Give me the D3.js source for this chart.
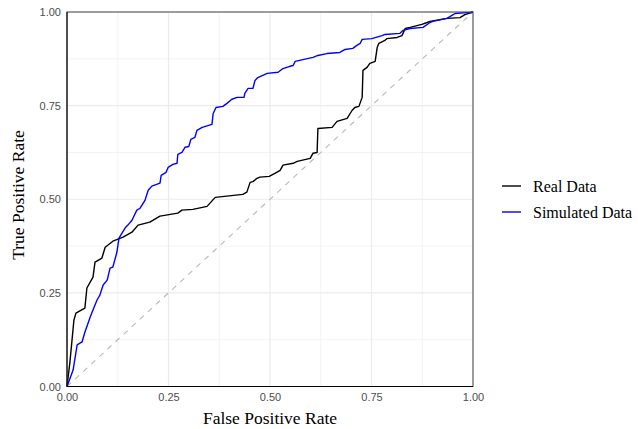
<!DOCTYPE html>
<html><head><meta charset="utf-8">
<script src="https://cdn.jsdelivr.net/npm/d3@7"></script>
<style>body{margin:0;background:#fff}svg{display:block}</style>
</head><body>
<script>
const xTicks = [0, 0.25, 0.5, 0.75, 1];
const yTicks = [0, 0.25, 0.5, 0.75, 1];
const seriesNames = ["Real Data", "Simulated Data"];
const seriesColors = ["#000000", "#0000ff"];

const realFPR = [0,0.007,0.017,0.022,0.044,0.049,0.064,0.069,0.086,0.094,0.113,0.138,0.160,0.175,0.204,0.229,0.273,0.283,0.310,0.345,0.365,0.433,0.443,0.451,0.458,0.468,0.475,0.498,0.512,0.525,0.532,0.557,0.567,0.599,0.606,0.616,0.618,0.653,0.665,0.690,0.702,0.709,0.719,0.727,0.729,0.739,0.746,0.759,0.764,0.768,0.783,0.788,0.813,0.825,0.833,0.845,0.874,0.887,0.894,0.936,0.968,0.980,1];
const realTPR = [0,0.063,0.177,0.196,0.209,0.263,0.292,0.332,0.343,0.372,0.388,0.399,0.412,0.431,0.439,0.455,0.463,0.471,0.473,0.481,0.505,0.513,0.519,0.545,0.547,0.556,0.559,0.561,0.569,0.577,0.591,0.596,0.601,0.609,0.623,0.625,0.689,0.692,0.708,0.716,0.737,0.745,0.748,0.772,0.844,0.852,0.863,0.868,0.905,0.916,0.924,0.929,0.932,0.937,0.956,0.959,0.967,0.972,0.975,0.983,0.985,0.993,1];

const simFPR = [0,0.015,0.025,0.037,0.044,0.057,0.062,0.074,0.081,0.089,0.099,0.106,0.113,0.123,0.128,0.143,0.150,0.160,0.172,0.180,0.192,0.200,0.209,0.229,0.232,0.244,0.249,0.261,0.271,0.273,0.283,0.291,0.300,0.305,0.315,0.320,0.333,0.357,0.360,0.367,0.384,0.394,0.406,0.419,0.436,0.438,0.446,0.458,0.463,0.470,0.493,0.520,0.532,0.549,0.557,0.562,0.581,0.606,0.618,0.640,0.672,0.685,0.704,0.714,0.722,0.727,0.751,0.776,0.783,0.820,0.828,0.845,0.877,0.894,0.901,0.936,0.948,0.956,0.993,1];
const simTPR = [0,0.044,0.111,0.119,0.145,0.185,0.199,0.231,0.244,0.271,0.284,0.316,0.319,0.359,0.396,0.423,0.431,0.444,0.471,0.476,0.497,0.524,0.535,0.543,0.564,0.572,0.585,0.593,0.596,0.620,0.625,0.639,0.641,0.660,0.665,0.684,0.692,0.700,0.729,0.745,0.748,0.756,0.767,0.772,0.772,0.783,0.796,0.796,0.817,0.825,0.836,0.839,0.849,0.855,0.857,0.868,0.873,0.879,0.884,0.889,0.892,0.900,0.903,0.911,0.916,0.927,0.929,0.937,0.940,0.943,0.951,0.956,0.959,0.972,0.975,0.983,0.991,0.996,0.999,1];

const W = 638, H = 429;
const m = {left: 67, right: 473, top: 12, bottom: 386.5};
const svg = d3.select("body").append("svg").attr("width", W).attr("height", H);

const x = d3.scaleLinear().domain([0,1]).range([m.left, m.right]);
const y = d3.scaleLinear().domain([0,1]).range([m.bottom, m.top]);

const minor = [0.125, 0.375, 0.625, 0.875];
const g = svg.append("g");
g.selectAll(".vmin").data(minor).join("line")
  .attr("x1", d=>x(d)).attr("x2", d=>x(d)).attr("y1", m.top).attr("y2", m.bottom)
  .attr("stroke", "#f0f0f0").attr("stroke-width", 0.8);
g.selectAll(".hmin").data(minor).join("line")
  .attr("y1", d=>y(d)).attr("y2", d=>y(d)).attr("x1", m.left).attr("x2", m.right)
  .attr("stroke", "#f0f0f0").attr("stroke-width", 0.8);
g.selectAll(".vmaj").data(xTicks).join("line")
  .attr("x1", d=>x(d)).attr("x2", d=>x(d)).attr("y1", m.top).attr("y2", m.bottom)
  .attr("stroke", "#ebebeb").attr("stroke-width", 1.2);
g.selectAll(".hmaj").data(yTicks).join("line")
  .attr("y1", d=>y(d)).attr("y2", d=>y(d)).attr("x1", m.left).attr("x2", m.right)
  .attr("stroke", "#ebebeb").attr("stroke-width", 1.2);

svg.append("line").attr("x1", x(0)).attr("y1", y(0)).attr("x2", x(1)).attr("y2", y(1))
  .attr("stroke", "#b8b8b8").attr("stroke-width", 1.1).attr("stroke-dasharray", "5.5,5.5");

const line = d3.line().x(d=>x(d[0])).y(d=>y(d[1]));
const series = [
  d3.zip(realFPR, realTPR),
  d3.zip(simFPR, simTPR)
];
series.forEach((s,i)=>{
  svg.append("path").datum(s).attr("d", line).attr("fill","none")
    .attr("stroke", seriesColors[i]).attr("stroke-width", 1.4).attr("stroke-linejoin","round");
});

svg.append("rect").attr("x", m.left).attr("y", m.top).attr("width", m.right-m.left).attr("height", m.bottom-m.top)
  .attr("fill","none").attr("stroke","#444").attr("stroke-width",1);
svg.append("path").attr("d", `M${m.left},${m.top}V${m.bottom}H${m.right}`).attr("fill","none").attr("stroke","#000").attr("stroke-width",1);

const fmt = d3.format(".2f");
const xa = svg.append("g").attr("transform", `translate(0,${m.bottom})`)
  .call(d3.axisBottom(x).tickValues(xTicks).tickFormat(fmt).tickSize(0).tickPadding(7));
const ya = svg.append("g").attr("transform", `translate(${m.left},0)`)
  .call(d3.axisLeft(y).tickValues(yTicks).tickFormat(fmt).tickSize(0).tickPadding(6));
[xa, ya].forEach(a=>{
  a.select(".domain").remove();
  a.selectAll("text").attr("font-family","Liberation Sans, Arial, sans-serif").attr("font-size", 11).attr("fill","#4d4d4d");
});

svg.append("text").attr("x", (m.left+m.right)/2).attr("y", 424).attr("text-anchor","middle")
  .attr("font-family","Liberation Serif, Times New Roman, serif").attr("font-size", 17.5).attr("fill","#000")
  .text("False Positive Rate");
svg.append("text").attr("transform", `translate(24,195) rotate(-90)`).attr("text-anchor","middle")
  .attr("font-family","Liberation Serif, Times New Roman, serif").attr("font-size", 17.5).attr("fill","#000")
  .text("True Positive Rate");

const lg = svg.append("g");
seriesNames.forEach((n,i)=>{
  const yy = 186 + i*26;
  lg.append("line").attr("x1", 502).attr("x2", 521).attr("y1", yy).attr("y2", yy)
    .attr("stroke", seriesColors[i]).attr("stroke-width", 1.4);
  lg.append("text").attr("x", 533).attr("y", yy).attr("dy","0.35em")
    .attr("font-family","Liberation Serif, Times New Roman, serif").attr("font-size", 16).attr("fill","#000")
    .text(n);
});
</script>
</body></html>
